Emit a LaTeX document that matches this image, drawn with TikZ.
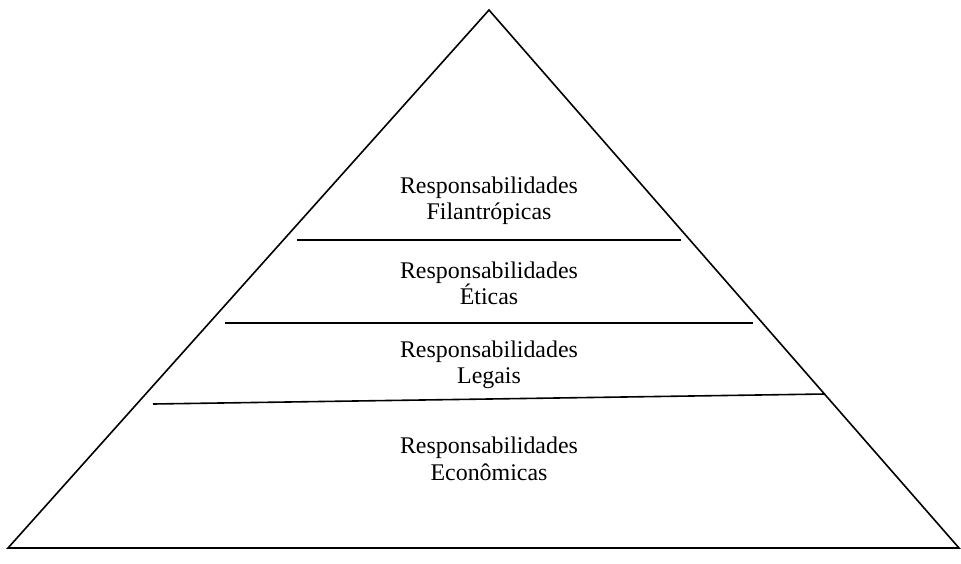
\documentclass[tikz,border=0pt]{standalone}
\usepackage{fontspec}
\setmainfont{Liberation Serif}
\begin{document}
\begin{tikzpicture}[x=1pt,y=-1pt,
  edge/.style={line width=1.6pt,black},
  label/.style={align=center,font=\fontsize{23.9}{26.5}\selectfont,inner sep=0pt}]
\useasboundingbox (0,0) rectangle (961,563);
\coordinate (apex) at (489,10);
\coordinate (bl) at (8,548);
\coordinate (br) at (959,548);
\draw[edge,line join=miter] (apex) -- (bl) -- (br) -- cycle;
\coordinate (f1) at (297,240); \coordinate (f2) at (681,240);
\coordinate (e1) at (225,323); \coordinate (e2) at (753,323);
\coordinate (l1) at (153,404); \coordinate (l2) at (825,394);
\draw[edge] (f1) -- (f2);
\draw[edge] (e1) -- (e2);
\draw[edge] (l1) -- (l2);
\node[label] (fil) at (489,200.5) {Responsabilidades\\Filantrópicas};
\node[label] (eti) at (489,283.5) {Responsabilidades\\Éticas};
\node[label] (leg) at (489,365) {Responsabilidades\\Legais};
\node[label] (eco) at (489,459) {Responsabilidades\\Econômicas};
\end{tikzpicture}
\end{document}
